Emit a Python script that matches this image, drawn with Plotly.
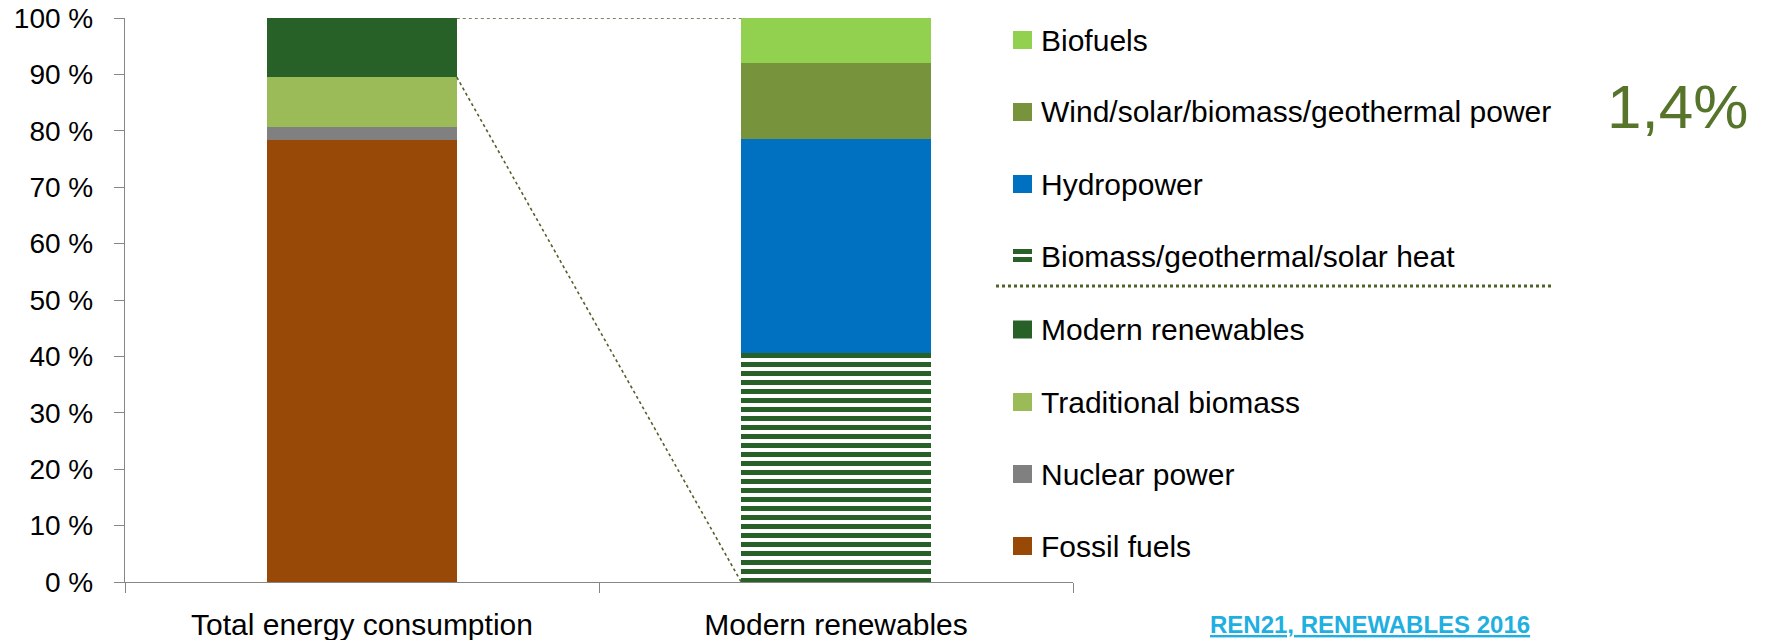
import plotly.graph_objects as go

# ---------------- data ----------------
categories = ["Total energy consumption", "Modern renewables"]

total_series = ["Fossil fuels", "Nuclear power", "Traditional biomass", "Modern renewables"]
total_values = [78.3, 2.4, 8.8, 10.5]

modern_series = ["Biomass/geothermal/solar heat", "Hydropower",
                 "Wind/solar/biomass/geothermal power", "Biofuels"]
modern_values = [40.6, 37.9, 13.5, 8.0]

share_label = "1,4%"
source_label = "REN21, RENEWABLES 2016"
y_ticks = [0, 10, 20, 30, 40, 50, 60, 70, 80, 90, 100]

# ---------------- styles ----------------
total_colors = ["#984807", "#808080", "#9BBB59", "#276128"]
modern_colors = ["#276128", "#0070C0", "#77933C", "#92D050"]
OLIVE = "#4F6228"
AXIS = "#868686"
FONT = "Liberation Sans, Arial, sans-serif"

W, H = 1765, 640
L, R, T, B = 125, 1073, 18, 582   # plot area in page pixels


def px(x):
    return (x - L) / (R - L)


def py(y):
    return (B - y) / (B - T)


fig = go.Figure()

for name, val, col in zip(total_series, total_values, total_colors):
    fig.add_trace(go.Bar(x=[categories[0]], y=[val], name=name,
                         marker=dict(color=col, line=dict(width=0)),
                         showlegend=False))

for i, (name, val, col) in enumerate(zip(modern_series, modern_values, modern_colors)):
    marker = dict(color=col, line=dict(width=0))
    if i == 0:
        marker = dict(color="white", line=dict(width=0),
                      pattern=dict(shape="-", fgcolor=col, bgcolor="white", fgopacity=1,
                                   size=9, solidity=0.55, fillmode="overlay"))
    fig.add_trace(go.Bar(x=[categories[1]], y=[val], name=name,
                         marker=marker, showlegend=False))

# connector lines (category index coordinates, values from data)
bar_half = 0.2
top_total = sum(total_values)
cum_before_modern = sum(total_values[:-1])
shapes = [
    dict(type="line", xref="x", yref="y", x0=0 + bar_half, x1=1 - bar_half,
         y0=top_total, y1=sum(modern_values),
         line=dict(color=OLIVE, width=1.6, dash="dot")),
    dict(type="line", xref="x", yref="y", x0=0 + bar_half, x1=1 - bar_half,
         y0=cum_before_modern, y1=0,
         line=dict(color=OLIVE, width=1.6, dash="dot")),
]

# ---------------- manual legend ----------------
legend_items = [(n, c) for n, c in zip(reversed(modern_series), reversed(modern_colors))] + \
               [(n, c) for n, c in zip(reversed(total_series), reversed(total_colors))]
legend_y = [40, 112, 184, 256, 329.5, 402, 474, 546]
annotations = []
for (name, col), yc in zip(legend_items, legend_y):
    if name == modern_series[0]:
        for yy in (yc - 7, yc + 1):
            shapes.append(dict(type="rect", xref="paper", yref="paper",
                               x0=px(1013), x1=px(1032), y0=py(yy + 5), y1=py(yy),
                               fillcolor=col, line=dict(width=0)))
    else:
        shapes.append(dict(type="rect", xref="paper", yref="paper",
                           x0=px(1013), x1=px(1032), y0=py(yc + 9), y1=py(yc - 9),
                           fillcolor=col, line=dict(width=0)))
    annotations.append(dict(text=name, xref="paper", yref="paper",
                            x=px(1039), y=py(yc), xanchor="left", yanchor="middle",
                            showarrow=False, font=dict(family=FONT, size=30, color="black")))

# dotted separator in legend
shapes.append(dict(type="line", xref="paper", yref="paper",
                   x0=px(996), x1=px(1553), y0=py(286), y1=py(286),
                   line=dict(color=OLIVE, width=3, dash="dot")))

annotations.append(dict(text=share_label, xref="paper", yref="paper",
                        x=px(1677), y=py(106), xanchor="center", yanchor="middle",
                        showarrow=False, font=dict(family=FONT, size=62, color="#56752A")))
annotations.append(dict(text="<b><u>" + source_label + "</u></b>", xref="paper", yref="paper",
                        x=px(1370), y=py(624), xanchor="center", yanchor="middle",
                        showarrow=False, font=dict(family=FONT, size=24, color="#1FAFE0")))

fig.update_layout(
    width=W, height=H,
    margin=dict(l=L, r=W - R, t=T, b=H - B, autoexpand=False),
    paper_bgcolor="white", plot_bgcolor="white",
    barmode="stack", bargap=0.6,
    showlegend=False,
    shapes=shapes, annotations=annotations,
    font=dict(family=FONT, color="black"),
)
fig.update_xaxes(type="category", categoryorder="array", categoryarray=categories,
                 range=[-0.5, 1.5], tickson="boundaries", ticks="outside", ticklen=10,
                 tickcolor=AXIS, showline=True, linecolor=AXIS, linewidth=1.3,
                 showgrid=False, zeroline=False, automargin=False,
                 tickfont=dict(family=FONT, size=30, color="black"), ticklabelstandoff=16)
fig.update_yaxes(range=[0, 100], tickvals=y_ticks, ticktext=[f"{v} %" for v in y_ticks],
                 ticks="outside", ticklen=10, tickcolor=AXIS, showline=True,
                 linecolor=AXIS, linewidth=1.3, showgrid=False, zeroline=False,
                 automargin=False, tickfont=dict(family=FONT, size=28, color="black"),
                 ticklabelstandoff=15, ticklabeloverflow="allow")

fig.write_html("out.html", config={"displayModeBar": False},
               post_script="document.body.style.margin='0';")
